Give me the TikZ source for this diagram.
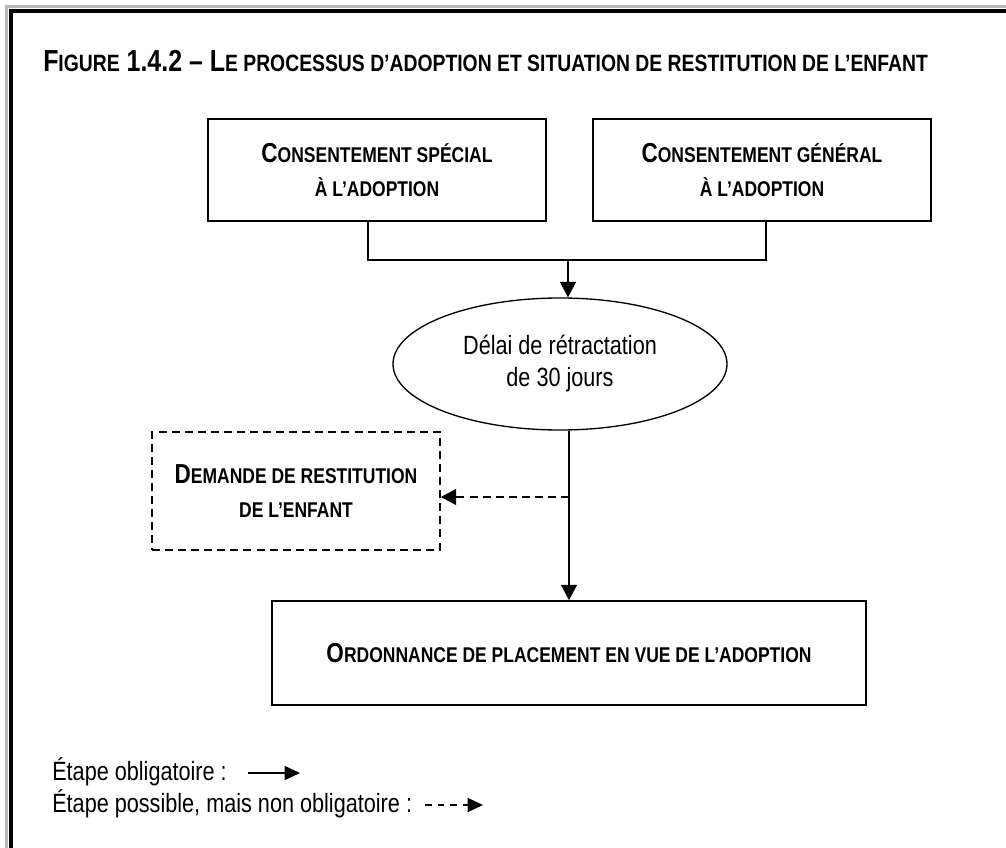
\documentclass[tikz,border=0pt]{standalone}
\usepackage{fontspec}
\setmainfont[FakeStretch=0.82]{Liberation Sans}
\usetikzlibrary{arrows.meta,shapes.geometric}

% small capitals built from two sizes of capitals
\newcommand{\capbig}{\fontsize{20.6pt}{25.5pt}\selectfont}
\newcommand{\capsmall}{\fontsize{16pt}{25.5pt}\selectfont}
\newcommand{\SC}[2]{{\capbig #1}{\capsmall #2}}
\newcommand{\headbig}{\fontsize{22.8pt}{27pt}\selectfont}
\newcommand{\headsmall}{\fontsize{17.7pt}{27pt}\selectfont}
\newcommand{\HSC}[2]{{\headbig #1}{\headsmall #2}}
\newcommand{\plain}{\fontsize{19.8pt}{24pt}\selectfont}

\tikzset{
  px/.style={x=0.75pt,y=-0.75pt},
  stepbox/.style={draw,line width=1.3pt,rectangle,inner sep=0pt,align=center,
                  font=\bfseries\capsmall},
  optbox/.style={stepbox,dashed,dash pattern=on 6pt off 3.8pt},
  delay/.style={draw,line width=1pt,ellipse,inner sep=0pt,align=center,font=\plain},
  link/.style={line width=1pt},
  tip/.style={-{Triangle[length=11.5pt,width=12pt]}},
  legtip/.style={-{Triangle[length=11.5pt,width=10.5pt]}},
  opt/.style={dash pattern=on 6pt off 3.8pt},
  legtext/.style={anchor=base west,inner sep=0pt,font=\plain}
}

\begin{document}
\begin{tikzpicture}[px]
\useasboundingbox (0,0) rectangle (1006,848);

% page frame
\draw[gray!55,line width=2.5pt] (6.5,848) -- (6.5,6.5) -- (1006,6.5);
\draw[black,line width=2.7pt] (11,848) -- (11,11) -- (1006,11);

% title
\node[anchor=base west,inner sep=0pt,font=\bfseries] (title) at (43,72)
  {\HSC{F}{IGURE}{\headbig\ 1.4.2 – }\HSC{L}{E PROCESSUS D’ADOPTION ET SITUATION DE RESTITUTION DE L’ENFANT}};

% consents
\node[stepbox,minimum width=338*0.75pt,minimum height=102*0.75pt] (special) at (377,170)
  {\SC{C}{ONSENTEMENT SPÉCIAL}\\ À L’ADOPTION};
\node[stepbox,minimum width=338*0.75pt,minimum height=102*0.75pt] (general) at (762,170)
  {\SC{C}{ONSENTEMENT GÉNÉRAL}\\ À L’ADOPTION};

% withdrawal period
\node[delay,minimum width=334*0.75pt,minimum height=132*0.75pt] (delai) at (560,364)
  {Délai de rétractation\\de 30 jours};

% optional request
\node[optbox,minimum width=288*0.75pt,minimum height=118*0.75pt] (demande) at (296,491)
  {\SC{D}{EMANDE DE RESTITUTION}\\ DE L’ENFANT};

% placement order
\node[stepbox,minimum width=594*0.75pt,minimum height=104*0.75pt] (ordonnance) at (569,653)
  {\SC{O}{RDONNANCE DE PLACEMENT EN VUE DE L’ADOPTION}};

% joining the two consents
\coordinate (jl) at (368,260);
\coordinate (jr) at (766,260);
\coordinate (jm) at (568,260);
\draw[link] (special.south -| jl) -- (jl) -- (jr) -- (general.south -| jr);
\draw[link,tip] (jm) -- (jm |- delai.north);

% from the delay to the order, with the optional branch
\coordinate (split) at (569,497);
\draw[link,tip] (delai.south -| ordonnance.north) -- (ordonnance.north);
\draw[link,tip,opt] (split) -- (demande.east |- split);

% legend
\node[legtext] (leg1) at (52,780) {Étape obligatoire :};
\node[legtext] (leg2) at (52,812) {Étape possible, mais non obligatoire :};
\coordinate (a1) at (248,773);
\coordinate (b1) at (300,773);
\coordinate (a2) at (425,805);
\coordinate (b2) at (483,805);
\draw[link,legtip] (a1) -- (b1);
\draw[link,legtip,dash pattern=on 5pt off 4.5pt] (a2) -- (b2);
\end{tikzpicture}
\end{document}
